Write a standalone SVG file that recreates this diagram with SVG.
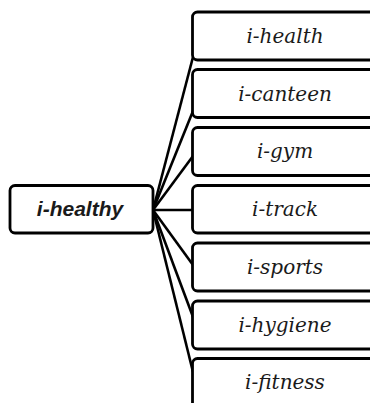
<svg xmlns="http://www.w3.org/2000/svg" width="370" height="403" viewBox="0 0 370 403">
  <style>
    .box { fill: #ffffff; stroke: #000000; stroke-width: 2.8; }
    .link { fill: none; stroke: #000000; stroke-width: 2.6; }
    .root { font-family: "Liberation Sans", Arial, sans-serif; font-weight: bold; font-style: italic; font-size: 21px; fill: #1a1a1a; text-anchor: middle; }
    .leaf { font-family: "DejaVu Serif", "Liberation Serif", serif; font-style: italic; font-size: 20px; fill: #1a1a1a; text-anchor: middle; }
  </style>
  <rect width="370" height="403" fill="#ffffff"/>

  <!-- connectors from the root to each branch -->
  <g id="connectors">
    <line class="link" x1="153" y1="210" x2="193" y2="57"/>
    <line class="link" x1="153" y1="210" x2="193" y2="111"/>
    <line class="link" x1="153" y1="210" x2="193" y2="156"/>
    <line class="link" x1="153" y1="210" x2="193" y2="210"/>
    <line class="link" x1="153" y1="210" x2="193" y2="265"/>
    <line class="link" x1="153" y1="210" x2="193" y2="317"/>
    <line class="link" x1="153" y1="210" x2="193" y2="372"/>
  </g>

  <g id="root">
    <rect class="box" x="10" y="185.5" width="143" height="47.5" rx="5"/>
    <text class="root" x="80" y="216">i-healthy</text>
  </g>

  <g id="n-health">
    <rect class="box" x="192.5" y="12" width="200" height="48" rx="5"/>
    <text class="leaf" x="285" y="43">i-health</text>
  </g>
  <g id="n-canteen">
    <rect class="box" x="192.5" y="69.5" width="200" height="48" rx="5"/>
    <text class="leaf" x="285" y="101">i-canteen</text>
  </g>
  <g id="n-gym">
    <rect class="box" x="192.5" y="127.5" width="200" height="48" rx="5"/>
    <text class="leaf" x="285" y="158">i-gym</text>
  </g>
  <g id="n-track">
    <rect class="box" x="192.5" y="185.5" width="200" height="47.5" rx="5"/>
    <text class="leaf" x="285" y="216">i-track</text>
  </g>
  <g id="n-sports">
    <rect class="box" x="192.5" y="243" width="200" height="48" rx="5"/>
    <text class="leaf" x="285" y="274">i-sports</text>
  </g>
  <g id="n-hygiene">
    <rect class="box" x="192.5" y="301" width="200" height="48" rx="5"/>
    <text class="leaf" x="285" y="332">i-hygiene</text>
  </g>
  <g id="n-fitness">
    <rect class="box" x="192.5" y="358.5" width="200" height="60" rx="5"/>
    <text class="leaf" x="285" y="389">i-fitness</text>
  </g>
</svg>
